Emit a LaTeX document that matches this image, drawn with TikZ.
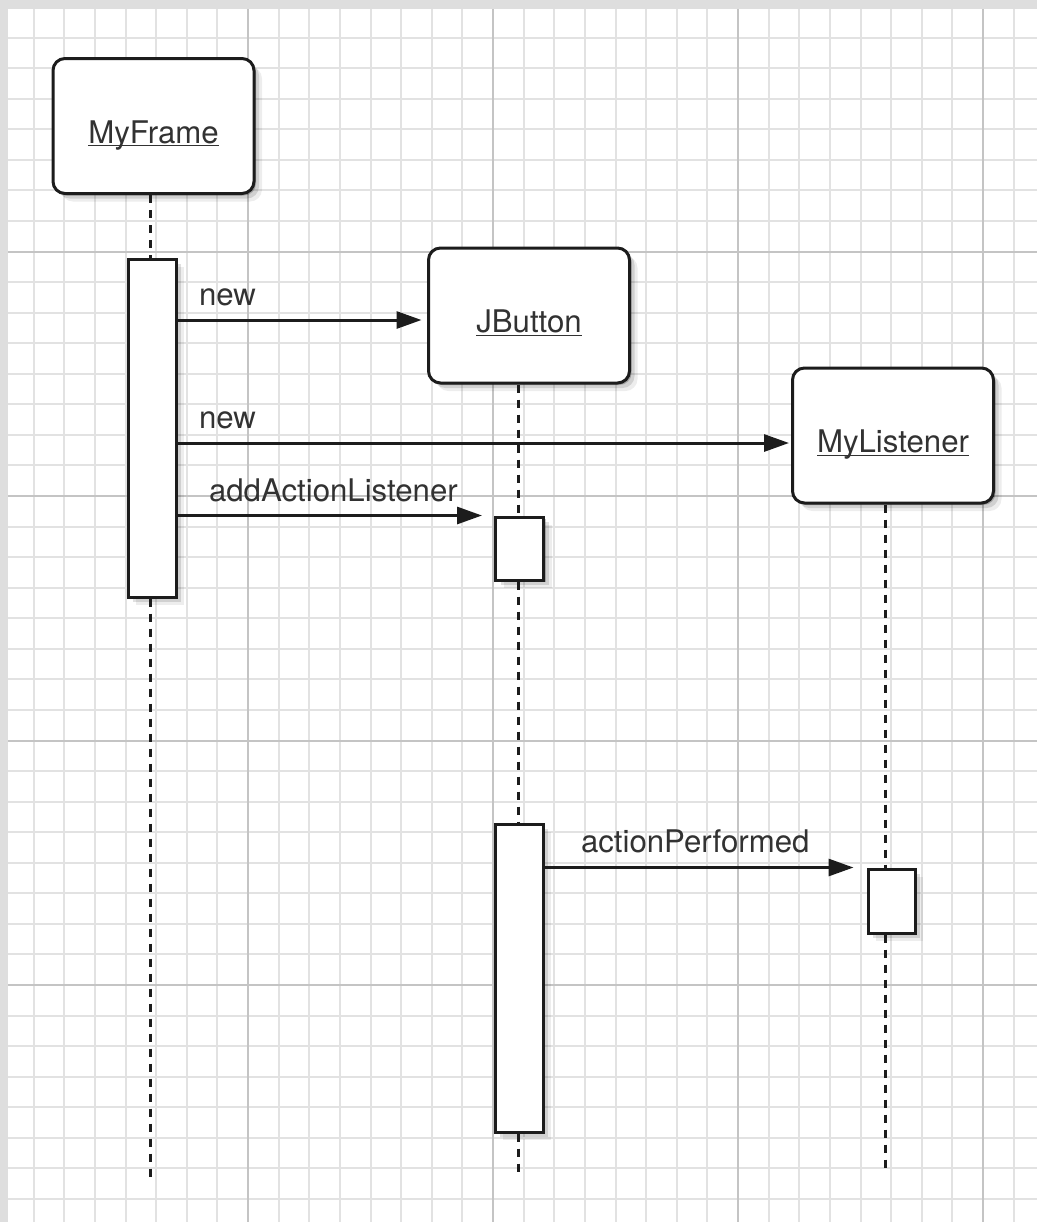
\documentclass[tikz,border=0pt]{standalone}
\usepackage{fontspec}
\setmainfont{TeX Gyre Heros}
\usepackage{tikz}
\usetikzlibrary{arrows.meta,shadows}
\usepackage{xcolor}
\definecolor{gridminor}{RGB}{226,226,226}
\definecolor{gridmajor}{RGB}{196,196,196}
\definecolor{page}{RGB}{222,222,222}
\definecolor{ink}{RGB}{28,28,28}
\definecolor{txt}{RGB}{50,50,50}
\newcommand{\objname}[1]{\underline{\smash{#1}}}
\tikzset{
    softshadow/.style={
        drop shadow={shadow xshift=1pt, shadow yshift=-1pt, opacity=.22, fill=black},
        drop shadow={shadow xshift=2.5pt, shadow yshift=-2.5pt, opacity=.12, fill=black},
        drop shadow={shadow xshift=4pt, shadow yshift=-4pt, opacity=.07, fill=black}}
}

\begin{document}
\begin{tikzpicture}[x=0.5pt, y=-0.5pt,
    object/.style={draw=ink, line width=1.5pt, fill=white, rounded corners=6pt, minimum width=100.5pt, minimum height=67.5pt, text height=17pt, text depth=0pt, font=\fontsize{15.6}{18}\selectfont, text=txt, softshadow},
    activation/.style={draw=ink, line width=1.5pt, fill=white, minimum width=24pt, inner sep=0pt, softshadow},
    lifeline/.style={draw=ink, line width=1.5pt, dash pattern=on 4pt off 3.5pt},
    msg/.style={draw=ink, line width=1.5pt, -{Triangle[length=12.5pt, width=8.5pt]}},
    lbl/.style={font=\fontsize{15.6}{18}\selectfont, text=txt, inner sep=0pt}
]
    \useasboundingbox (0,0) rectangle (1037,1222);

    % Paper and grid
    \fill[page] (0,0) rectangle (1037,1222);
    \fill[white] (8,9) rectangle (1037,1222);
    \begin{scope}
        \clip (8,9) rectangle (1037,1222);
        \foreach \k in {0,...,33} {
            \pgfmathsetmacro\gx{3+30.625*\k}
            \draw[gridminor, line width=1pt] (\gx,9) -- (\gx,1222);
        }
        \foreach \k in {0,...,39} {
            \pgfmathsetmacro\gy{7+30.5625*\k}
            \draw[gridminor, line width=1pt] (8,\gy) -- (1037,\gy);
        }
        \foreach \gx in {248,493,738,983}
            \draw[gridmajor, line width=1pt] (\gx,9) -- (\gx,1222);
        \foreach \gy in {251.5,496,740.5,985}
            \draw[gridmajor, line width=1pt] (8,\gy) -- (1037,\gy);
    \end{scope}

    % Objects
    \node[object] (myframe) at (153.5,126) {\objname{MyFrame}};
    \node[object] (jbutton) at (529,315.5) {\objname{JButton}};
    \node[object] (mylistener) at (893,435.5) {\objname{MyListener}};

    % Activations
    \node[activation, minimum height=169pt] (frameact) at (152,428) {};
    \node[activation, minimum height=31.5pt] (addact) at (519.5,548.5) {};
    \node[activation, minimum height=154pt] (clickact) at (519,978) {};
    \node[activation, minimum height=32pt, minimum width=23.5pt] (listenact) at (891.5,901) {};

    % Lifeline ends
    \coordinate (frameend) at (150,1178);
    \coordinate (buttonend) at (518,1175);
    \coordinate (listenend) at (885,1170);

    % Lifelines
    \draw[lifeline] (myframe.south -| frameend) -- (frameact.north -| frameend);
    \draw[lifeline] (frameact.south -| frameend) -- (frameend);
    \draw[lifeline] (jbutton.south -| buttonend) -- (addact.north -| buttonend);
    \draw[lifeline] (addact.south -| buttonend) -- (clickact.north -| buttonend);
    \draw[lifeline] (clickact.south -| buttonend) -- (buttonend);
    \draw[lifeline] (mylistener.south -| listenend) -- (listenact.north -| listenend);
    \draw[lifeline] (listenact.south -| listenend) -- (listenend);

    % Messages
    \draw[msg, shorten >=2.75pt] (frameact.east |- 0,320) -- (jbutton.west |- 0,320)
        node[lbl, pos=0, anchor=base west, xshift=10pt, yshift=7.5pt] {new};
    \draw[msg, shorten >=1pt] (frameact.east |- 0,443) -- (mylistener.west |- 0,443)
        node[lbl, pos=0, anchor=base west, xshift=10pt, yshift=7.5pt] {new};
    \draw[msg, shorten >=6pt] (frameact.east |- addact.north) -- (addact.north west)
        node[lbl, pos=0, anchor=base west, xshift=15pt, yshift=7pt] {addActionListener};
    \draw[msg, shorten >=6.5pt] (clickact.east |- listenact.north) -- (listenact.north west)
        node[lbl, pos=0, anchor=base west, xshift=17.5pt, yshift=7.5pt] {actionPerformed};
\end{tikzpicture}
\end{document}
